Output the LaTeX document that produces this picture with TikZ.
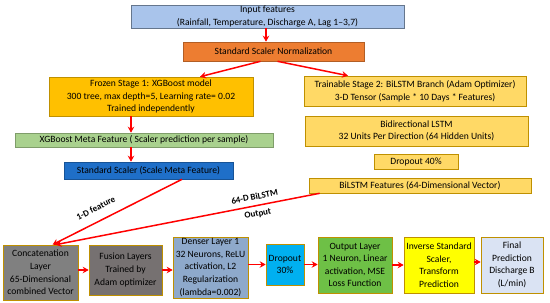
\documentclass[tikz,border=0pt]{standalone}
\usepackage{fontspec}
\setmainfont{Carlito}
\usepackage{xcolor}
\usetikzlibrary{arrows.meta}

\definecolor{inblue}{HTML}{A9C4EB}
\definecolor{normorange}{HTML}{ED7D31}
\definecolor{frozengold}{HTML}{FFC000}
\definecolor{metagreen}{HTML}{A9D18E}
\definecolor{scaleblue}{HTML}{1F6FC8}
\definecolor{lstmgold}{HTML}{FFD966}
\definecolor{concatgray}{HTML}{808080}
\definecolor{fusiongray}{HTML}{767171}
\definecolor{denserblue}{HTML}{8EA9CB}
\definecolor{dropcyan}{HTML}{00B0F0}
\definecolor{outgreen}{HTML}{6EC046}
\definecolor{invyellow}{HTML}{FFFF00}
\definecolor{finalblue}{HTML}{DAE3F3}
\definecolor{edgegold}{HTML}{BF9000}

\begin{document}
\begin{tikzpicture}[
    x = 1pt, y = -1pt,
    >=Stealth,
    every node/.style = {font=\fontsize{9.6}{12.6}\selectfont},
    % Named styles
    box/.style    = {rectangle, fill=#1, draw=#1!75!black, line width=0.6pt,
                     align=center, inner sep=1pt},
    layer/.style  = {box=#1, draw=edgegold},
    flow/.style   = {-{Stealth[length=6pt,width=6.5pt]}, red, line width=1.5pt},
    edgelbl/.style = {font=\fontsize{9}{10}\selectfont\bfseries, text=black, align=center},
]

% ── Canvas (pixel units of the reference) ────────────────────────────────────
\useasboundingbox (0,0) rectangle (550,303);

% ── Input and normalisation ─────────────────────────────────────────────────
\node[box=inblue, draw=inblue!60!black, minimum width=273, minimum height=23]
    (input) at (267.5,16.5) {Input features\\(Rainfall, Temperature, Discharge A, Lag 1--3,7)};
\node[box=normorange, minimum width=181, minimum height=19]
    (norm) at (273.5,51.5) {Standard Scaler Normalization};

% ── Stage 1: XGBoost branch ─────────────────────────────────────────────────
\node[box=frozengold, minimum width=204, minimum height=39]
    (frozen) at (151,96.5) {Frozen Stage 1: XGBoost model\\
    300 tree, max depth=5, Learning rate= 0.02\\Trained independently};
\node[box=metagreen, minimum width=258, minimum height=14]
    (meta) at (144,140) {XGBoost Meta Feature ( Scaler prediction per sample)};
\node[box=scaleblue, minimum width=169, minimum height=17]
    (scalemeta) at (148.5,170.5) {Standard Scaler (Scale Meta Feature)};

% ── Stage 2: BiLSTM branch ──────────────────────────────────────────────────
\node[box=lstmgold, draw=edgegold, minimum width=222, minimum height=30]
    (trainable) at (415,91) {Trainable Stage 2: BiLSTM Branch (Adam Optimizer)\\
    3-D Tensor (Sample * 10 Days * Features)};
\node[box=lstmgold, draw=edgegold, minimum width=223, minimum height=30]
    (bilstm) at (416.5,131) {Bidirectional LSTM\\32 Units Per Direction (64 Hidden Units)};
\node[box=lstmgold, draw=edgegold, minimum width=84, minimum height=15]
    (drop40) at (416,161.5) {Dropout 40\%};
\node[box=lstmgold, draw=edgegold, minimum width=222, minimum height=15]
    (bfeat) at (420,185.5) {BiLSTM Features (64-Dimensional Vector)};

% ── Fusion head ─────────────────────────────────────────────────────────────
\node[layer=concatgray, minimum width=75, minimum height=55]
    (concat) at (40.5,272.5) {Concatenation\\Layer\\65-Dimensional\\combined Vector};
\node[layer=fusiongray, minimum width=73, minimum height=50]
    (fusion) at (125.5,270) {Fusion Layers\\Trained by\\Adam optimizer};
\node[layer=denserblue, minimum width=75, minimum height=61]
    (denser) at (210.5,267.5) {Denser Layer 1\\32 Neurons, ReLU\\activation, L2\\
    Regularization\\(lambda=0.002)};
\node[layer=dropcyan, minimum width=38, minimum height=41]
    (drop30) at (285,264.5) {Dropout\\30\%};
\node[layer=outgreen, minimum width=74, minimum height=56]
    (output) at (355,265) {Output Layer\\1 Neuron, Linear\\activation, MSE\\Loss Function};
\node[layer=invyellow, minimum width=70, minimum height=56]
    (inverse) at (439,265) {Inverse Standard\\Scaler,\\Transform\\Prediction};
\node[layer=finalblue, minimum width=62, minimum height=56]
    (final) at (512,265) {Final\\Prediction\\Discharge B\\(L/min)};

% ── Connectors ──────────────────────────────────────────────────────────────
\draw[flow] ([xshift=-1.5]input.south) -- ([xshift=-1.5]input.south |- norm.north);
\draw[flow] ([xshift=-13]norm.south) -- ([xshift=49]frozen.north);
\draw[flow] ([xshift=4]norm.south) -- ([xshift=-67]trainable.north);
\draw[flow] ([xshift=-20]frozen.south) -- ([xshift=-20]frozen.south |- meta.north);
\draw[flow] ([xshift=-13]meta.south) -- ([xshift=-13]meta.south |- scalemeta.north);

\draw[flow] ([xshift=33.5]scalemeta.south) -- ([xshift=12]concat.north)
    node[edgelbl, pos=0.62, sloped, above=6pt] {1-D feature};
\draw[flow] ([xshift=11]bfeat.south west) -- ([xshift=15]concat.north)
    node[edgelbl, pos=0.24, sloped] {64-D BiLSTM\\[7pt]Output};

% Horizontal chain
\draw[flow] (fusion.west -| concat.east) -- (fusion.west);
\draw[flow] (fusion.east) -- (fusion.east -| denser.west);
\draw[flow] (drop30.west -| denser.east) -- (drop30.west);
\draw[flow] (drop30.east) -- (drop30.east -| output.west);
\draw[flow] (output.east) -- (output.east -| inverse.west);
\draw[flow] ([yshift=3]inverse.east) -- ([yshift=3]inverse.east -| final.west);

\end{tikzpicture}
\end{document}
